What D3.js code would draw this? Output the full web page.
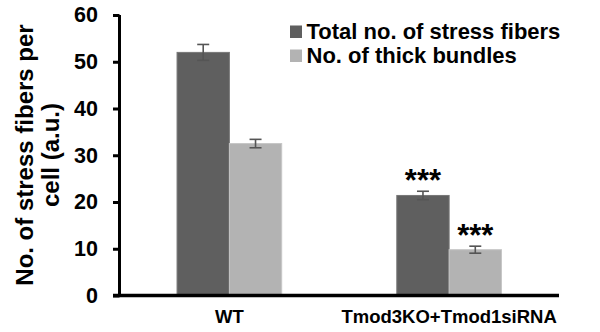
<!DOCTYPE html>
<html>
<head>
<meta charset="utf-8">
<script src="https://cdn.jsdelivr.net/npm/d3@7/dist/d3.min.js"></script>
<style>
  body { margin: 0; background: #fff; }
</style>
</head>
<body>
<svg id="chart" width="600" height="332"></svg>
<script>
// Groups, series and measured values
const categories = ["WT", "Tmod3KO+Tmod1siRNA"];
const seriesNames = ["Total no. of stress fibers", "No. of thick bundles"];
const totalFibers = [52.0, 21.4];
const totalFibersErr = [1.7, 0.9];
const thickBundles = [32.5, 9.8];
const thickBundlesErr = [0.9, 0.75];
const significance = [["", ""], ["***", "***"]];
const yTicks = [0, 10, 20, 30, 40, 50, 60];

const FONT = "'Liberation Sans', Arial, Helvetica, sans-serif";
const colors = ["#5f5f5f", "#b3b3b3"];
const strokes = ["#777777", "#c6c6c6"];

const svg = d3.select("#chart");
const x0 = 119.5, x1 = 559, yTop = 15, yBottom = 295.5;

const y = d3.scaleLinear().domain([0, 60]).range([yBottom, yTop]);
const x = d3.scaleBand().domain(categories).range([x0, x1]).paddingInner(0).paddingOuter(0);
const xs = d3.scaleBand().domain([0, 1]).range([0, x.bandwidth()]).paddingInner(0).paddingOuter(1.1);

const rows = categories.map((c, i) => [
  { cat: c, s: 0, v: totalFibers[i], e: totalFibersErr[i], sig: significance[i][0] },
  { cat: c, s: 1, v: thickBundles[i], e: thickBundlesErr[i], sig: significance[i][1] }
]).flat();

// Bars
svg.append("g").selectAll("rect").data(rows).join("rect")
  .attr("x", d => x(d.cat) + xs(d.s))
  .attr("y", d => y(d.v))
  .attr("width", xs.bandwidth())
  .attr("height", d => y(0) - y(d.v))
  .attr("fill", d => colors[d.s])
  .attr("stroke", d => strokes[d.s])
  .attr("stroke-width", 1);

// Error bars
const eb = svg.append("g").attr("stroke", "#555").attr("stroke-width", 1.6).attr("fill", "none");
rows.forEach(d => {
  const cx = x(d.cat) + xs(d.s) + xs.bandwidth() / 2;
  const hw = 6;
  eb.append("line").attr("x1", cx).attr("x2", cx).attr("y1", y(d.v + d.e)).attr("y2", y(d.v - d.e));
  eb.append("line").attr("x1", cx - hw).attr("x2", cx + hw).attr("y1", y(d.v + d.e)).attr("y2", y(d.v + d.e));
  eb.append("line").attr("x1", cx - hw).attr("x2", cx + hw).attr("y1", y(d.v - d.e)).attr("y2", y(d.v - d.e));
});

// Significance marks
svg.append("g").selectAll("text").data(rows.filter(d => d.sig)).join("text")
  .attr("x", d => x(d.cat) + xs(d.s) + xs.bandwidth() / 2)
  .attr("y", d => y(d.v + d.e) - 0.5)
  .attr("text-anchor", "middle")
  .attr("font-family", FONT).attr("font-weight", "bold")
  .attr("font-size", 31)
  .text(d => d.sig);

// Y axis
const yAxis = svg.append("g").attr("transform", `translate(${x0},0)`)
  .call(d3.axisLeft(y).tickValues(yTicks).tickSize(6.5).tickPadding(15));
yAxis.select(".domain").attr("stroke", "#000").attr("stroke-width", 3).attr("d", `M0,${yTop}V${yBottom}`);
yAxis.selectAll(".tick line").attr("stroke", "#000").attr("stroke-width", 3);
yAxis.selectAll(".tick text").attr("font-size", 21.5).attr("font-family", FONT)
  .attr("font-weight", "bold").attr("fill", "#000");

// X axis
const xAxis = svg.append("g").attr("transform", `translate(0,${yBottom})`)
  .call(d3.axisBottom(x).tickSize(0).tickPadding(14));
xAxis.select(".domain").attr("stroke", "#000").attr("stroke-width", 3.5).attr("d", `M${x0 - 6.5},0H${x1}`);
xAxis.selectAll(".tick text").attr("font-size", 18.5).attr("font-family", FONT)
  .attr("font-weight", "bold").attr("fill", "#000");

// Y title
const yt = svg.append("text").attr("transform", "translate(33,155) rotate(-90)")
  .attr("text-anchor", "middle").attr("font-size", 24)
  .attr("font-family", FONT).attr("font-weight", "bold").attr("fill", "#000");
yt.append("tspan").attr("x", 0).attr("dy", 0).text("No. of stress fibers per");
yt.append("tspan").attr("x", 0).attr("dy", 26).text("cell (a.u.)");

// Legend
const lg = svg.append("g").attr("transform", "translate(290,25)");
seriesNames.forEach((n, i) => {
  const g = lg.append("g").attr("transform", `translate(0,${i * 24})`);
  g.append("rect").attr("width", 12).attr("height", 12.5).attr("y", 0.5).attr("fill", colors[i]);
  g.append("text").attr("x", 16.5).attr("y", 14).attr("font-size", 22)
    .attr("font-family", FONT).attr("font-weight", "bold").attr("fill", "#000").text(n);
});
</script>
</body>
</html>
